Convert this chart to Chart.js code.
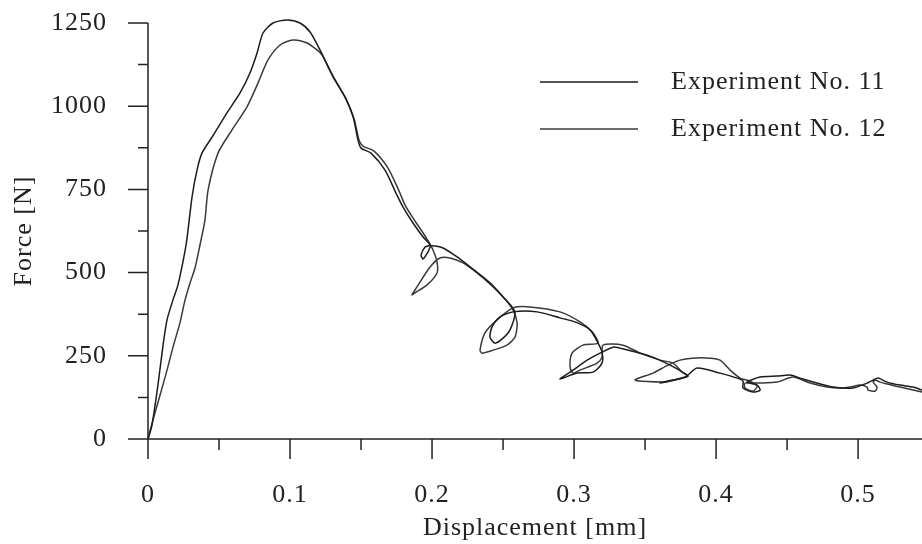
<!DOCTYPE html>
<html>
<head>
<meta charset="utf-8">
<script src="https://cdn.jsdelivr.net/npm/chart.js@4.4.0/dist/chart.umd.min.js"></script>
<style>
  html, body { margin: 0; padding: 0; background: #fff; }
</style>
</head>
<body>
<canvas id="chart" width="922" height="544"></canvas>
<script>
// traced from the force / displacement plot
const exp11X = [0, 0.0028, 0.0070, 0.0106, 0.0134, 0.0176, 0.0211, 0.0246, 0.0268, 0.0282,
  0.0310, 0.0345, 0.0380, 0.0451, 0.0556, 0.0648, 0.0718, 0.0768, 0.0810, 0.0880,
  0.0979, 0.1070, 0.1141, 0.1211, 0.1303, 0.1387, 0.1444, 0.1479, 0.1500, 0.1570,
  0.1669, 0.1746, 0.1796, 0.1866, 0.1937, 0.1986, 0.1951, 0.1923, 0.1937, 0.1972,
  0.1993, 0.2077, 0.2176, 0.2268, 0.2408, 0.2500, 0.2563, 0.2585, 0.2549, 0.2500,
  0.2444, 0.2408, 0.2423, 0.2479, 0.2570, 0.2739, 0.2901, 0.3007, 0.3113, 0.3169,
  0.3197, 0.3197, 0.3134, 0.3021, 0.2901, 0.2993, 0.3092, 0.3197, 0.3275, 0.3324,
  0.3535, 0.3690, 0.3775, 0.3803, 0.3711, 0.3606, 0.3662, 0.3782, 0.3866, 0.4028,
  0.4148, 0.4190, 0.4190, 0.4261, 0.4310, 0.4289, 0.4218, 0.4310, 0.4430, 0.4521,
  0.4592, 0.4711, 0.4824, 0.4965, 0.5063, 0.5106, 0.5141, 0.5204, 0.5296, 0.5387, 0.5451];
const exp11Y = [0, 42, 162, 282, 358, 418, 463, 532, 583, 628,
  727, 808, 859, 907, 980, 1040, 1100, 1160, 1220, 1250,
  1259, 1250, 1223, 1169, 1088, 1028, 968, 898, 874, 859,
  808, 739, 697, 649, 607, 583, 577, 553, 541, 562,
  580, 574, 547, 517, 469, 427, 397, 379, 328, 303,
  288, 306, 337, 367, 382, 382, 364, 352, 328, 288,
  261, 228, 201, 198, 180, 207, 237, 261, 276, 273,
  249, 219, 198, 189, 177, 168, 174, 186, 213, 198,
  183, 174, 153, 141, 147, 162, 171, 186, 189, 192,
  183, 168, 156, 153, 168, 177, 183, 171, 162, 156, 147];

const exp12X = [0, 0.0035, 0.0085, 0.0134, 0.0176, 0.0225, 0.0261, 0.0296, 0.0331, 0.0366,
  0.0401, 0.0423, 0.0493, 0.0592, 0.0697, 0.0775, 0.0845, 0.0930, 0.1021, 0.1120,
  0.1190, 0.1225, 0.1310, 0.1394, 0.1451, 0.1486, 0.1514, 0.1592, 0.1690, 0.1768,
  0.1810, 0.1880, 0.1951, 0.2007, 0.2035, 0.2035, 0.1965, 0.1880, 0.1859, 0.1894,
  0.1986, 0.2056, 0.2127, 0.2218, 0.2317, 0.2415, 0.2507, 0.2570, 0.2599, 0.2585,
  0.2528, 0.2430, 0.2352, 0.2338, 0.2373, 0.2458, 0.2570, 0.2690, 0.2901, 0.3042,
  0.3127, 0.3169, 0.3063, 0.2986, 0.2972, 0.2993, 0.3042, 0.3162, 0.3197, 0.3204,
  0.3345, 0.3465, 0.3606, 0.3697, 0.3761, 0.3796, 0.3697, 0.3627, 0.3430, 0.3556,
  0.3662, 0.3746, 0.3831, 0.3958, 0.4028, 0.4099, 0.4169, 0.4239, 0.4289, 0.4261,
  0.4204, 0.4204, 0.4310, 0.4430, 0.4542, 0.4662, 0.4782, 0.4873, 0.4944, 0.5014,
  0.5063, 0.5070, 0.5120, 0.5134, 0.5106, 0.5120, 0.5155, 0.5204, 0.5296, 0.5387, 0.5451];
const exp12Y = [0, 57, 132, 207, 276, 349, 418, 469, 514, 583,
  658, 748, 859, 929, 998, 1070, 1139, 1184, 1199, 1190,
  1169, 1154, 1085, 1022, 962, 898, 880, 865, 814, 745,
  703, 655, 610, 568, 532, 499, 463, 439, 433, 457,
  517, 544, 544, 529, 499, 463, 424, 388, 349, 307,
  282, 267, 258, 267, 319, 358, 394, 397, 382, 352,
  322, 288, 282, 258, 216, 198, 207, 228, 246, 282,
  282, 258, 237, 228, 201, 189, 177, 171, 177, 198,
  222, 237, 243, 243, 237, 207, 183, 174, 159, 144,
  153, 168, 168, 171, 186, 168, 156, 153, 156, 162,
  156, 147, 144, 156, 171, 177, 171, 165, 156, 147, 141];

const xMajor = [0, 0.1, 0.2, 0.3, 0.4, 0.5];
const xMinor = [0.05, 0.15, 0.25, 0.35, 0.45];
const xLabels = ['0', '0.1', '0.2', '0.3', '0.4', '0.5'];
const yMajor = [0, 250, 500, 750, 1000, 1250];
const yMinor = [125, 375, 625, 875, 1125];
const yLabels = ['0', '250', '500', '750', '1000', '1250'];

const serif = '"Liberation Serif", "Times New Roman", serif';
const ink = '#222';

const zip = (xs, ys) => xs.map((x, i) => ({ x: x, y: ys[i] }));

const axesPlugin = {
  id: 'axesPlugin',
  beforeDraw(chart) {
    const ctx = chart.ctx;
    ctx.save();
    ctx.fillStyle = '#fff';
    ctx.fillRect(0, 0, chart.width, chart.height);
    ctx.restore();
    ctx.letterSpacing = '1px';
  },
  afterDatasetsDraw(chart) {
    const ctx = chart.ctx;
    const xs = chart.scales.x, ys = chart.scales.y;
    const x0 = xs.getPixelForValue(0);
    const y0 = ys.getPixelForValue(0);
    ctx.save();
    ctx.strokeStyle = ink;
    ctx.lineWidth = 1.5;
    ctx.beginPath();
    ctx.moveTo(x0, ys.getPixelForValue(yMajor[yMajor.length - 1]));
    ctx.lineTo(x0, y0);
    ctx.moveTo(x0, y0);
    ctx.lineTo(xs.right, y0);
    yMajor.forEach(v => { const p = ys.getPixelForValue(v); ctx.moveTo(x0 - 20, p); ctx.lineTo(x0, p); });
    yMinor.forEach(v => { const p = ys.getPixelForValue(v); ctx.moveTo(x0 - 10, p); ctx.lineTo(x0, p); });
    xMajor.forEach(v => { const p = xs.getPixelForValue(v); ctx.moveTo(p, y0); ctx.lineTo(p, y0 + 20); });
    xMinor.forEach(v => { const p = xs.getPixelForValue(v); ctx.moveTo(p, y0); ctx.lineTo(p, y0 + 11); });
    ctx.stroke();

    // legend, drawn the way the original figure has it
    ctx.font = '26px ' + serif;
    ctx.textBaseline = 'middle';
    ctx.textAlign = 'left';
    chart.data.datasets.forEach((ds, i) => {
      const y = 82 + i * 47;
      ctx.strokeStyle = ds.borderColor;
      ctx.beginPath();
      ctx.moveTo(540, y);
      ctx.lineTo(638, y);
      ctx.stroke();
      ctx.fillStyle = ink;
      ctx.fillText(ds.label, 671, y);
    });
    ctx.restore();
  }
};

new Chart(document.getElementById('chart'), {
  type: 'scatter',
  data: {
    datasets: [
      {
        label: 'Experiment No. 11',
        data: zip(exp11X, exp11Y),
        showLine: true,
        borderColor: '#1c1c1c',
        borderWidth: 1.5,
        pointRadius: 0,
        tension: 0.25,
        clip: false
      },
      {
        label: 'Experiment No. 12',
        data: zip(exp12X, exp12Y),
        showLine: true,
        borderColor: '#3a3a3a',
        borderWidth: 1.5,
        pointRadius: 0,
        tension: 0.25,
        clip: false
      }
    ]
  },
  options: {
    responsive: false,
    animation: false,
    layout: { padding: { top: 23, right: 0, bottom: 0, left: 0 } },
    plugins: {
      legend: { display: false },
      tooltip: { enabled: false }
    },
    scales: {
      x: {
        type: 'linear',
        min: 0,
        max: 0.545,
        afterBuildTicks: s => { s.ticks = xMajor.map(v => ({ value: v })); },
        afterFit: s => { s.height = 105; },
        grid: { display: false, drawTicks: true, tickLength: 35 },
        border: { display: false },
        ticks: {
          callback: (v, i) => xLabels[i],
          font: { family: serif, size: 26 },
          color: ink,
          padding: 6,
          maxRotation: 0,
          autoSkip: false
        },
        title: {
          display: true,
          text: 'Displacement [mm]',
          font: { family: serif, size: 26 },
          color: ink,
          padding: { top: 0, bottom: 0 }
        }
      },
      y: {
        type: 'linear',
        min: 0,
        max: 1250,
        afterBuildTicks: s => { s.ticks = yMajor.map(v => ({ value: v })); },
        afterFit: s => { s.width = 148; },
        grid: { display: false, drawTicks: true, tickLength: 35 },
        border: { display: false },
        ticks: {
          callback: (v, i) => yLabels[i],
          font: { family: serif, size: 26 },
          color: ink,
          padding: 6
        },
        title: {
          display: true,
          text: 'Force [N]',
          font: { family: serif, size: 26 },
          color: ink,
          padding: { top: 9, bottom: 0 }
        }
      }
    }
  },
  plugins: [axesPlugin]
});
</script>
</body>
</html>
